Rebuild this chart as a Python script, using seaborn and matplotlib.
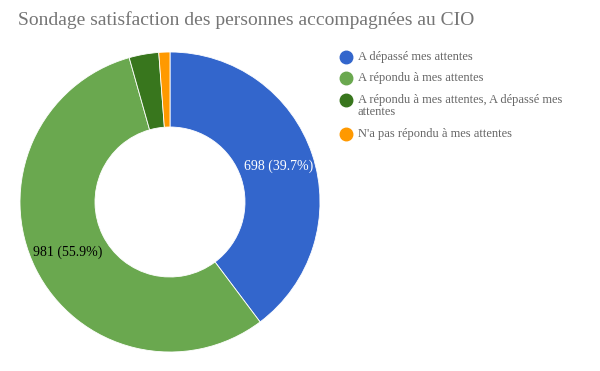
import matplotlib.pyplot as plt
import seaborn as sns
from matplotlib.lines import Line2D

# Données du sondage
categories = [
    "A dépassé mes attentes",
    "A répondu à mes attentes",
    "A répondu à mes attentes, A dépassé mes\nattentes",
    "N'a pas répondu à mes attentes",
]
valeurs = [698, 981, 56, 21]
couleurs = ["#3366cc", "#6aa84f", "#38761d", "#ff9900"]

sns.set_theme(style="white")
plt.rcParams["font.family"] = ["Liberation Serif", "DejaVu Serif"]

total = sum(valeurs)


def etiquette(pct):
    if pct < 10:
        return ""
    n = int(round(pct * total / 100.0))
    return f"{n} ({pct:.1f}%)"


W, H = 600, 371
fig = plt.figure(figsize=(6, 3.71), dpi=100)
ax = fig.add_axes([20 / W, 19 / H, 300 / W, 300 / H])

wedges, textes, autotextes = ax.pie(
    valeurs,
    colors=couleurs,
    startangle=90,
    counterclock=False,
    autopct=etiquette,
    pctdistance=0.76,
    wedgeprops={"width": 0.5, "edgecolor": "white", "linewidth": 0.6},
    textprops={"fontsize": 10},
)
ax.set_xlim(-1, 1)
ax.set_ylim(-1, 1)
ax.set_aspect("equal")
autotextes[0].set_color("white")
autotextes[1].set_color("black")

fig.text(18 / W, 1 - 20 / H, "Sondage satisfaction des personnes accompagnées au CIO",
         fontsize=14, color="#757575", va="center", ha="left")

# légende dessinée à la main pour coller au rendu d'origine
y_legende = [57, 78, 100, 134]
for cat, c, y in zip(categories, couleurs, y_legende):
    fig.add_artist(Line2D([346 / W], [1 - y / H], marker="o", linestyle="",
                          markersize=9, markerfacecolor=c, markeredgecolor=c,
                          transform=fig.transFigure))
    fig.text(358 / W, 1 - (y - 6) / H, cat, fontsize=9, color="#666666",
             va="top", ha="left", linespacing=1.05)

fig.savefig("out.png", dpi=100, facecolor="white")
